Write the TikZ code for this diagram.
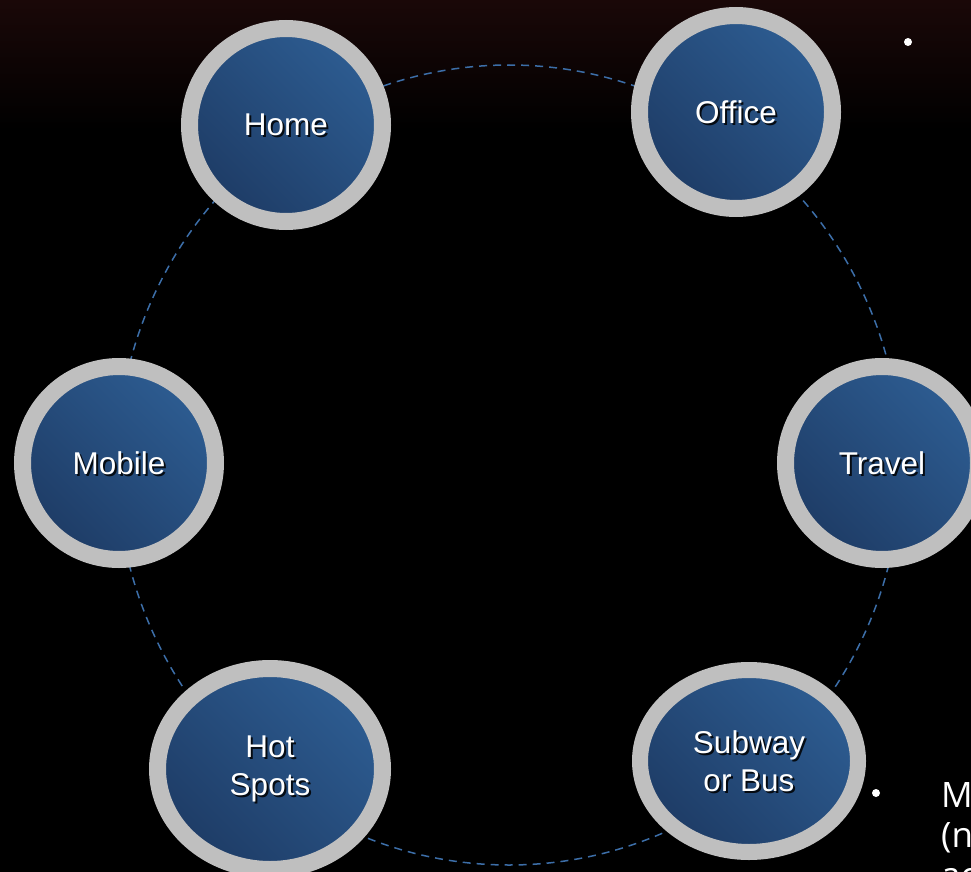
\documentclass[tikz,border=0pt]{standalone}
\usepackage{fontspec}
\setmainfont{Liberation Sans}
\newfontfamily\notefont{Open Sans}
\usepackage{tikz}
\usetikzlibrary{shapes.geometric}

\definecolor{ringgray}{HTML}{BFBFBF}
\definecolor{spottop}{HTML}{2D5C91}
\definecolor{spotbottom}{HTML}{1E3C66}
\definecolor{loopblue}{HTML}{3C6EA8}
\definecolor{bgred}{HTML}{1A0808}

\begin{document}
\begin{tikzpicture}[x=1pt,y=-1pt,
  spot/.style={ellipse,draw=ringgray,line width=17pt,inner sep=0pt,
    minimum width=193pt,minimum height=193pt,
    top color=spottop,bottom color=spotbottom,shading angle=-45},
  placename/.style={text=white,align=center,font=\fontsize{31.5}{38}\selectfont},
  placeshadow/.style={placename,text=black,opacity=0.85,xshift=2pt,yshift=-2pt},
  bullet/.style={circle,fill=white,inner sep=0pt}]
  \useasboundingbox (0,0) rectangle (971,872);
  \clip (0,0) rectangle (971,872);
  \fill[black] (0,0) rectangle (971,872);
  \shade[top color=bgred,bottom color=black] (0,0) rectangle (971,130);

  % the dashed ring behind the places
  \draw[loopblue,line width=1.5pt,dash pattern=on 8pt off 6pt]
    (509,465) ellipse [x radius=392pt,y radius=400pt];

  \node[spot] (home) at (286,125) {};
  \node[spot] (office) at (736,112) {};
  \node[spot] (mobile) at (119,463) {};
  \node[spot] (travel) at (882,463) {};
  \node[spot,line width=17pt,minimum width=225pt,minimum height=201pt] (hotspots) at (270,769) {};
  \node[spot,line width=16pt,minimum width=218pt,minimum height=182pt] (subway) at (749,761) {};

  \foreach \p/\t in {home/Home,office/Office,mobile/Mobile,travel/Travel,
      hotspots/{Hot\\Spots},subway/{Subway\\or Bus}} {
    \node[placeshadow] at (\p) {\t};
    \node[placename] at (\p) {\t};
  }

  \node[bullet,minimum size=8pt] (dottop) at (908,42) {};
  \node[bullet,minimum size=8pt] (dotbottom) at (876,793) {};
  \node[anchor=north west,inner sep=0pt,text=white,align=left,
    font=\notefont\fontsize{35}{40}\selectfont] (note) at (941,782) {M\\(n\\ac};
\end{tikzpicture}
\end{document}
